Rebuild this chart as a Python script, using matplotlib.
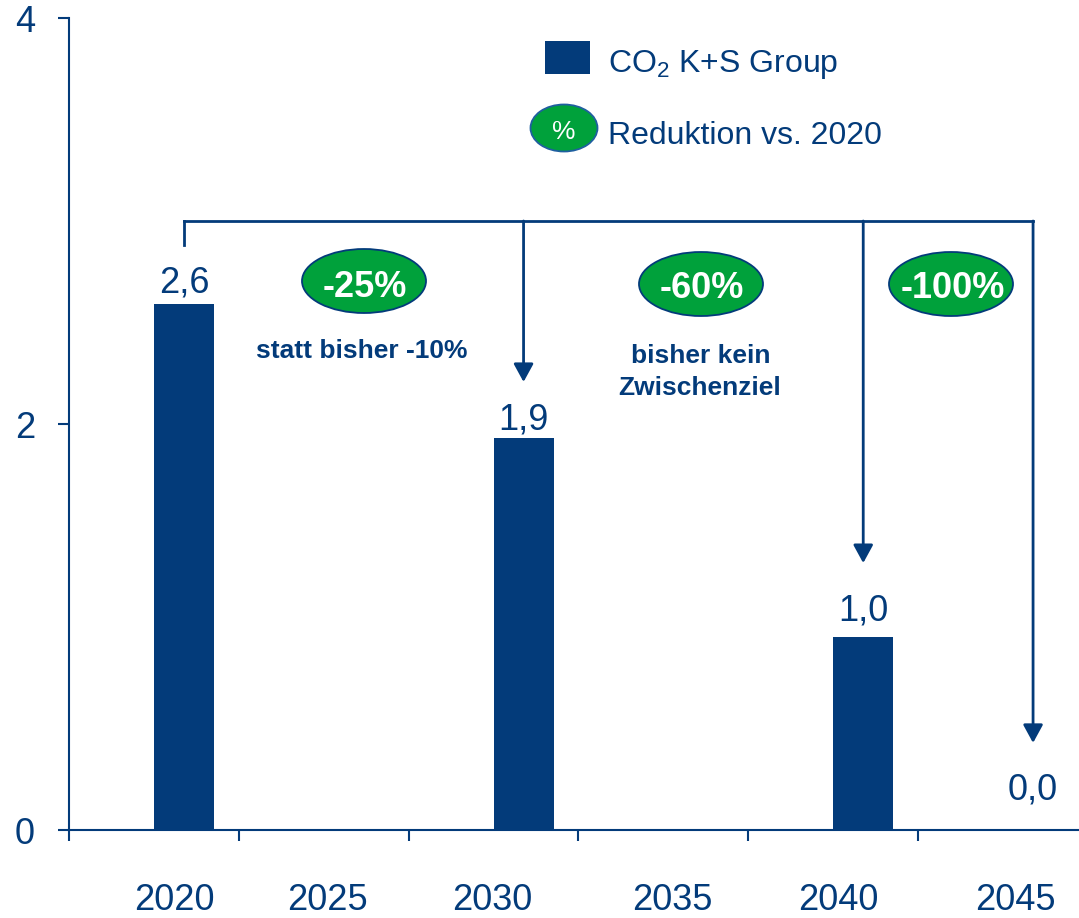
import matplotlib
matplotlib.use('Agg')
import matplotlib.pyplot as plt
from matplotlib.patches import Ellipse, Rectangle
from matplotlib import transforms

# ---- data ----
years = ['2020', '2025', '2030', '2035', '2040', '2045']
bar_years = ['2020', '2030', '2040', '2045']
co2_values = [2.59, 1.93, 0.95, 0.0]
value_labels = ['2,6', '1,9', '1,0', '0,0']
reduction_labels = ['-25%', '-60%', '-100%']
note_25 = 'statt bisher -10%'
note_60 = ['bisher kein', 'Zwischenziel']
yticks = [0, 2, 4]
legend_bar = r'CO$_{\mathregular{2}}$ K+S Group'
legend_pct = 'Reduktion vs. 2020'

# ---- style ----
BLUE = '#033B7A'
GREEN = '#00A13B'
plt.rcParams['font.family'] = ['Liberation Sans', 'DejaVu Sans']
plt.rcParams['mathtext.fontset'] = 'custom'
plt.rcParams['mathtext.rm'] = 'Liberation Sans'
plt.rcParams['mathtext.it'] = 'Liberation Sans:italic'
plt.rcParams['mathtext.bf'] = 'Liberation Sans:bold'

W, H = 1079, 918
fig = plt.figure(figsize=(W / 100, H / 100), dpi=100)
ax = fig.add_axes([69 / W, (H - 830) / H, (1088 - 69) / W, (830 - 18) / H])
ax.set_xlim(-0.5, 5.5)
ax.set_ylim(0, 4)


def fx(px):
    return px / W


def fy(py):
    return 1 - py / H


# bars
idx = [years.index(y) for y in bar_years]
bar_w = 0.353
ax.bar(idx, co2_values, width=bar_w, align='edge', color=BLUE, zorder=2)
centers = [i + bar_w / 2 for i in idx]

# value labels
label_offsets = [8.6, 6.5, 12.2, 21.6]
for xc, v, lab, off in zip(centers, co2_values, value_labels, label_offsets):
    ax.annotate(lab, (xc, v), xytext=(0, off), textcoords='offset points',
                ha='center', va='baseline', fontsize=26, color=BLUE)

# axes styling
for s in ['top', 'right']:
    ax.spines[s].set_visible(False)
for s in ['left', 'bottom']:
    ax.spines[s].set_color(BLUE)
    ax.spines[s].set_linewidth(1.5)
ax.set_xticks([k - 0.5 for k in range(len(years) + 1)])
ax.tick_params(axis='x', length=8, width=1.5, color=BLUE, labelbottom=False, direction='out')
ax.set_yticks(yticks)
ax.set_yticklabels([str(v) for v in yticks])
ax.tick_params(axis='y', length=8, width=1.5, color=BLUE, labelcolor=BLUE,
               labelsize=26, pad=16.5, direction='out')

# x category labels
label_shift = [0.12, 0.02, -0.01, 0.05, 0.03, 0.07]
trans = transforms.blended_transform_factory(ax.transData, ax.transAxes)
for k, lab in enumerate(years):
    ax.text(k + label_shift[k], (830 - 910) / 812, lab, transform=trans,
            ha='center', va='baseline', fontsize=26, color=BLUE, clip_on=False)

# bracket + arrows
y_br = 3.0
ax.plot([centers[0], centers[-1]], [y_br, y_br], color=BLUE, lw=2,
        solid_capstyle='projecting', clip_on=False, zorder=3)
ax.plot([centers[0], centers[0]], [y_br, 2.88], color=BLUE, lw=2,
        solid_capstyle='projecting', clip_on=False, zorder=3)
tips = [2.207, 1.315, 0.429]
for xc, tip in zip(centers[1:], tips):
    ax.annotate('', xy=(xc, tip), xytext=(xc, y_br),
                arrowprops=dict(arrowstyle='-|>,head_length=0.55,head_width=0.3',
                                mutation_scale=20, color=BLUE, lw=2,
                                shrinkA=0, shrinkB=0), zorder=3)

# reduction ellipses
ell_pos = [(364, 281), (701, 284), (951, 284)]
base_y = [297, 298, 298]
txt_x = [364.5, 701.5, 953]
for (cx, cy), lab, by, tx in zip(ell_pos, reduction_labels, base_y, txt_x):
    fig.add_artist(Ellipse((fx(cx), fy(cy)), 124 / W, 64 / H, transform=fig.transFigure,
                           facecolor=GREEN, edgecolor=BLUE, lw=1.3))
    fig.text(fx(tx), fy(by), lab, ha='center', va='baseline', fontsize=26,
             weight='bold', color='white')

# notes
fig.text(fx(362), fy(358), note_25, ha='center', va='baseline', fontsize=19,
         weight='bold', color=BLUE)
fig.text(fx(701), fy(363), note_60[0], ha='center', va='baseline', fontsize=19,
         weight='bold', color=BLUE)
fig.text(fx(700), fy(395), note_60[1], ha='center', va='baseline', fontsize=19,
         weight='bold', color=BLUE)

# legend
fig.add_artist(Rectangle((fx(545), fy(74)), 45 / W, 33 / H, transform=fig.transFigure,
                         facecolor=BLUE, edgecolor='none'))
fig.text(fx(608), fy(72), legend_bar, ha='left', va='baseline', fontsize=23, color=BLUE)
fig.add_artist(Ellipse((fx(564), fy(128)), 67 / W, 47 / H, transform=fig.transFigure,
                       facecolor=GREEN, edgecolor='#1F5F9F', lw=1.3))
fig.text(fx(564), fy(139), '%', ha='center', va='baseline', fontsize=19, color='white')
fig.text(fx(608), fy(144), legend_pct, ha='left', va='baseline', fontsize=23, color=BLUE)

fig.savefig('out.png', dpi=100)
